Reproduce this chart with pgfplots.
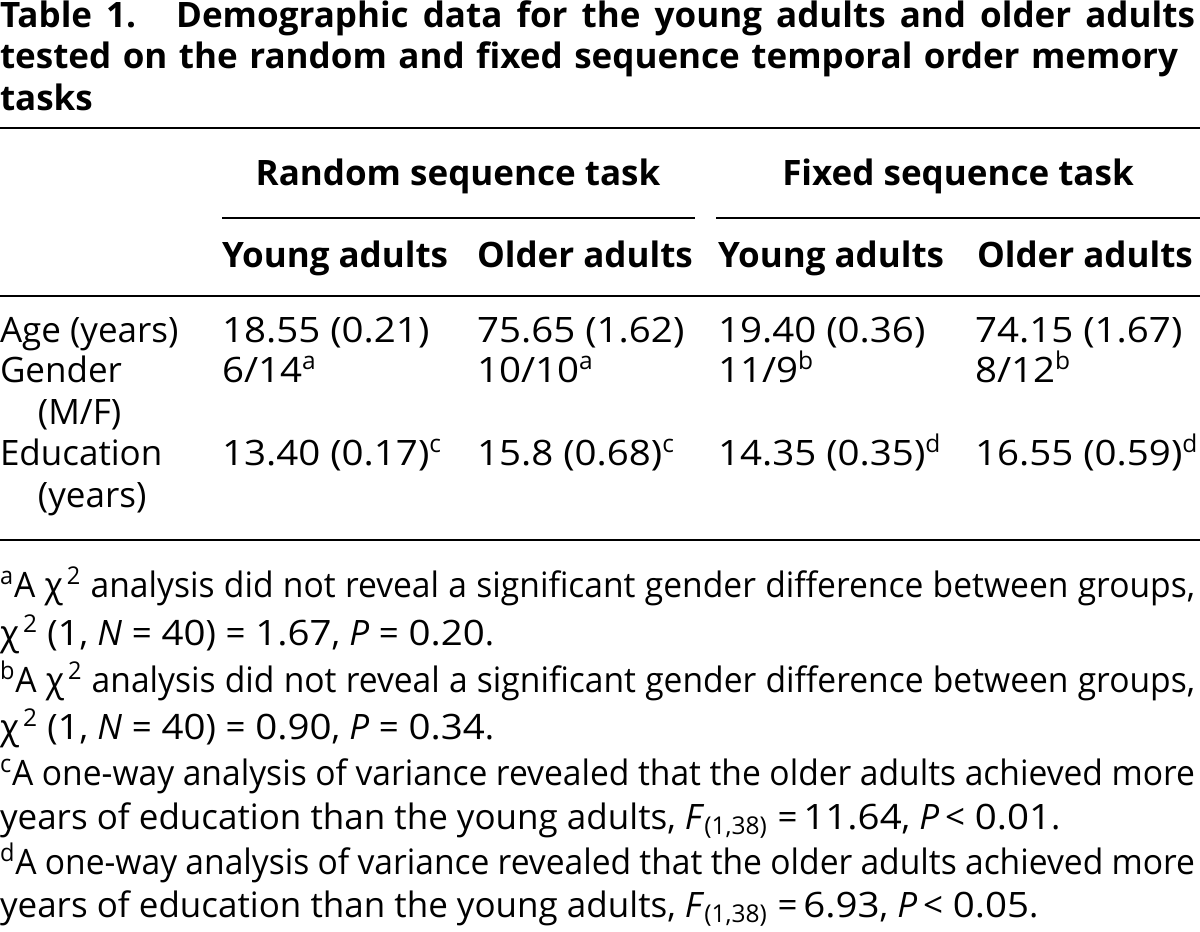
\documentclass[border=0pt]{standalone}
\usepackage{fontspec}
\setmainfont{Open Sans}
\newfontfamily\nf[FakeStretch=1.1]{Open Sans}
\usepackage{graphicx}
\usepackage{pgfplots}
\pgfplotsset{compat=1.18}
\newcommand\tf{\fontsize{17.5pt}{20.75pt}\selectfont}
\newcommand\chisq{χ\textsuperscript{\,2}}
\newcommand\nm[1]{{\nf #1}}
\newcommand\fl[1]{\scalebox{0.96}[1]{\hbox to 622.4pt{#1}}}
\tikzset{tn/.style={inner sep=0pt, outer sep=0pt, font=\tf}}
\begin{document}
\begin{tikzpicture}
\begin{axis}[
  width=600pt, height=466pt, scale only axis,
  xmin=0, xmax=1200, ymin=0, ymax=932, y dir=reverse,
  hide axis, clip=false,
]
% rules
\addplot[black, line width=1.1pt, forget plot] coordinates {(0,128) (1200,128)};
\addplot[black, line width=1.1pt, forget plot] coordinates {(222,218) (695,218)};
\addplot[black, line width=1.1pt, forget plot] coordinates {(716,218) (1200,218)};
\addplot[black, line width=1.1pt, forget plot] coordinates {(0,296) (1200,296)};
\addplot[black, line width=1.1pt, forget plot] coordinates {(0,540) (1200,540)};
% title
\node[tn, anchor=base west] at (axis cs:0,27) {\hbox to 597.5pt{\bfseries Table 1.\hspace{20pt}Demographic data for the young adults and older adults}};
\node[tn, anchor=base west] at (axis cs:0,68) {\hbox to 589pt{\bfseries tested on the random and fixed sequence temporal order memory}};
\node[tn, anchor=base west] at (axis cs:0,110) {\bfseries tasks};
% headers
\node[tn, anchor=base] at (axis cs:458,185) {\bfseries Random sequence task};
\node[tn, anchor=base] at (axis cs:958,185) {\bfseries Fixed sequence task};
\node[tn, anchor=base west] at (axis cs:222,267) {\bfseries Young adults};
\node[tn, anchor=base west] at (axis cs:477,267) {\bfseries Older adults};
\node[tn, anchor=base west] at (axis cs:718,267) {\bfseries Young adults};
\node[tn, anchor=base west] at (axis cs:977,267) {\bfseries Older adults};
% rows
\node[tn, anchor=base west] at (axis cs:0,342) {Age (years)};
\node[tn, anchor=base west] at (axis cs:222,342) {\nm{18.55 (0.21)}};
\node[tn, anchor=base west] at (axis cs:477,342) {\nm{75.65 (1.62)}};
\node[tn, anchor=base west] at (axis cs:718,342) {\nm{19.40 (0.36)}};
\node[tn, anchor=base west] at (axis cs:975,342) {\nm{74.15 (1.67)}};
\node[tn, anchor=base west] at (axis cs:0,382) {Gender};
\node[tn, anchor=base west] at (axis cs:38,424) {(M/F)};
\node[tn, anchor=base west] at (axis cs:222,382) {\nm{6/14}\textsuperscript{a}};
\node[tn, anchor=base west] at (axis cs:477,382) {\nm{10/10}\textsuperscript{a}};
\node[tn, anchor=base west] at (axis cs:718,382) {\nm{11/9}\textsuperscript{b}};
\node[tn, anchor=base west] at (axis cs:975,382) {\nm{8/12}\textsuperscript{b}};
\node[tn, anchor=base west] at (axis cs:0,465) {Education};
\node[tn, anchor=base west] at (axis cs:38,507) {(years)};
\node[tn, anchor=base west] at (axis cs:222,465) {\nm{13.40 (0.17)}\textsuperscript{c}};
\node[tn, anchor=base west] at (axis cs:477,465) {\nm{15.8 (0.68)}\textsuperscript{c}};
\node[tn, anchor=base west] at (axis cs:718,465) {\nm{14.35 (0.35)}\textsuperscript{d}};
\node[tn, anchor=base west] at (axis cs:975,465) {\nm{16.55 (0.59)}\textsuperscript{d}};
% footnotes
\node[tn, anchor=base west] at (axis cs:0,597) {\fl{\textsuperscript{a}A \chisq{} analysis did not reveal a significant gender difference between groups,}};
\node[tn, anchor=base west] at (axis cs:0,645) {\chisq{} (\nm{1}, \textit{N}\;=\;\nm{40})\;=\;\nm{1.67}, \textit{P}\;=\;\nm{0.20}.};
\node[tn, anchor=base west] at (axis cs:0,692) {\fl{\textsuperscript{b}A \chisq{} analysis did not reveal a significant gender difference between groups,}};
\node[tn, anchor=base west] at (axis cs:0,739) {\chisq{} (\nm{1}, \textit{N}\;=\;\nm{40})\;=\;\nm{0.90}, \textit{P}\;=\;\nm{0.34}.};
\node[tn, anchor=base west] at (axis cs:0,785) {\fl{\textsuperscript{c}A one-way analysis of variance revealed that the older adults achieved more}};
\node[tn, anchor=base west] at (axis cs:0,829) {years of education than the young adults, \textit{F}\textsubscript{(1,38)}\;=\,\nm{11.64}, \textit{P}\,<\;\nm{0.01}.};
\node[tn, anchor=base west] at (axis cs:0,874) {\fl{\textsuperscript{d}A one-way analysis of variance revealed that the older adults achieved more}};
\node[tn, anchor=base west] at (axis cs:0,917) {years of education than the young adults, \textit{F}\textsubscript{(1,38)}\;=\,\nm{6.93}, \textit{P}\,<\;\nm{0.05}.};
\end{axis}
\pgfresetboundingbox
\path (0,0) rectangle (600pt,466pt);
\end{tikzpicture}
\end{document}
